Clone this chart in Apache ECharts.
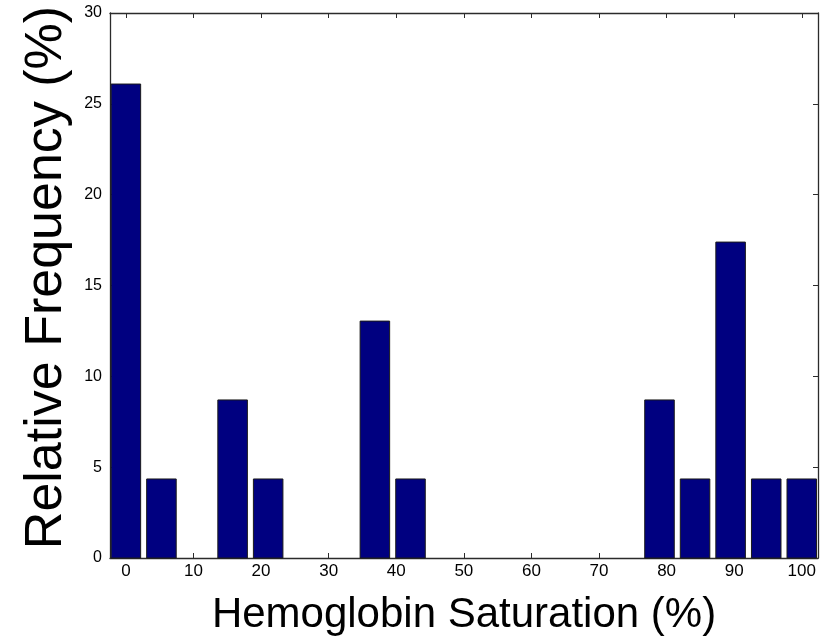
<!DOCTYPE html>
<html>
<head>
<meta charset="utf-8">
<title>Hemoglobin Saturation Histogram</title>
<script src="https://cdn.jsdelivr.net/npm/echarts@6/dist/echarts.min.js"></script>
<style>
  html, body { margin: 0; padding: 0; background: #ffffff; }
  #chart { width: 828px; height: 643px; }
</style>
</head>
<body>
<div id="chart"></div>
<script>
// Histogram bin centres (20 bins spanning 0..100 %)
const binCenters = [0, 5.26, 10.53, 15.79, 21.05, 26.32, 31.58, 36.84, 42.11, 47.37,
                    52.63, 57.89, 63.16, 68.42, 73.68, 78.95, 84.21, 89.47, 94.74, 100];
// Relative frequency of each bin (%)
const relFrequency = [26.09, 4.35, 0, 8.70, 4.35, 0, 0, 13.04, 4.35, 0,
                      0, 0, 0, 0, 0, 8.70, 4.35, 17.39, 4.35, 4.35];
// Tick values
const xTicks = [0, 10, 20, 30, 40, 50, 60, 70, 80, 90, 100];
const yTicks = [0, 5, 10, 15, 20, 25, 30];

const X_MIN = -2.35, X_MAX = 102.4;
const BAR_W = 4.37;            // bar width in axis units
const FONT = "'Liberation Sans', Arial, sans-serif";
const AXIS_COLOR = '#2b2b2b';

const chart = echarts.init(document.getElementById('chart'), null, { renderer: 'canvas' });

const tickStyle = { show: true, inside: true, length: 5, lineStyle: { color: AXIS_COLOR, width: 1 } };
const lineStyle = { show: true, onZero: false, lineStyle: { color: AXIS_COLOR, width: 1.3 } };

chart.setOption({
  animation: false,
  backgroundColor: '#ffffff',
  grid: { left: 110, right: 10, top: 13, bottom: 85, containLabel: false },
  xAxis: [
    {
      type: 'value', position: 'bottom', min: X_MIN, max: X_MAX,
      axisLine: lineStyle,
      axisTick: Object.assign({}, tickStyle, { customValues: xTicks }),
      axisLabel: { customValues: xTicks, color: '#000', fontFamily: FONT, fontSize: 17, margin: 5 },
      splitLine: { show: false },
      name: 'Hemoglobin Saturation (%)', nameLocation: 'middle', nameGap: 36,
      nameTextStyle: { color: '#000', fontFamily: FONT, fontSize: 42 }
    },
    {
      type: 'value', position: 'top', min: X_MIN, max: X_MAX,
      axisLine: lineStyle,
      axisTick: Object.assign({}, tickStyle, { customValues: xTicks }),
      axisLabel: { show: false },
      splitLine: { show: false }
    }
  ],
  yAxis: [
    {
      type: 'value', position: 'left', min: 0, max: 30,
      axisLine: lineStyle,
      axisTick: Object.assign({}, tickStyle, { customValues: yTicks }),
      axisLabel: { customValues: yTicks, color: '#000', fontFamily: FONT, fontSize: 16, margin: 8 },
      splitLine: { show: false },
      name: 'Relative Frequency (%)', nameLocation: 'middle', nameGap: 37,
      nameTextStyle: { color: '#000', fontFamily: FONT, fontSize: 52, padding: [0, 0, 0, 16] }
    },
    {
      type: 'value', position: 'right', min: 0, max: 30,
      axisLine: lineStyle,
      axisTick: Object.assign({}, tickStyle, { customValues: yTicks }),
      axisLabel: { show: false },
      splitLine: { show: false }
    }
  ],
  series: [{
    type: 'custom',
    xAxisIndex: 0, yAxisIndex: 0,
    data: binCenters.map((c, i) => [c, relFrequency[i]]),
    encode: { x: 0, y: 1 },
    renderItem: function (params, api) {
      const x = api.value(0), y = api.value(1);
      if (!(y > 0)) return null;
      const topLeft = api.coord([x - BAR_W / 2, y]);
      const bottomRight = api.coord([x + BAR_W / 2, 0]);
      return {
        type: 'rect',
        shape: { x: topLeft[0], y: topLeft[1], width: bottomRight[0] - topLeft[0], height: bottomRight[1] - topLeft[1] },
        style: { fill: '#000080', stroke: '#1a1a1a', lineWidth: 1 }
      };
    }
  }]
});
</script>
</body>
</html>
